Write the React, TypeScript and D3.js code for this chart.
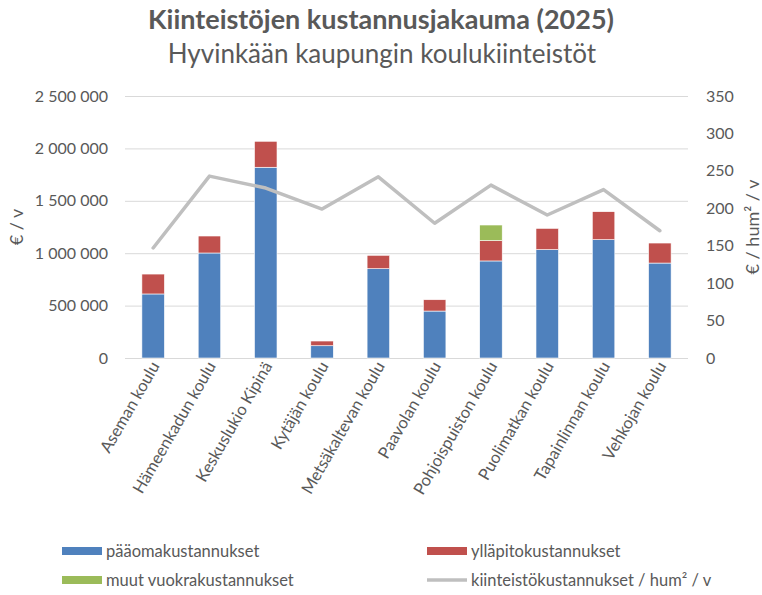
import { useRef, useEffect } from 'react';
import * as d3 from 'd3';

const schools = [
  'Aseman koulu',
  'Hämeenkadun koulu',
  'Keskuslukio Kipinä',
  'Kytäjän koulu',
  'Metsäkaltevan koulu',
  'Paavolan koulu',
  'Pohjoispuiston koulu',
  'Puolimatkan koulu',
  'Tapainlinnan koulu',
  'Vehkojan koulu',
];
const capital = [611000, 1002000, 1820000, 117000, 852000, 448000, 926000, 1034000, 1129000, 906000];
const upkeep = [190000, 162000, 248000, 45000, 128000, 108000, 194000, 203000, 267000, 191000];
const otherRent = [0, 0, 0, 0, 0, 0, 149000, 0, 0, 0];
const perSqm = [147, 243, 227, 199, 242, 180, 231, 191, 225, 170];
const leftTicks = [0, 500000, 1000000, 1500000, 2000000, 2500000];
const rightTicks = [0, 50, 100, 150, 200, 250, 300, 350];

const seriesNames = ['pääomakustannukset', 'ylläpitokustannukset', 'muut vuokrakustannukset'];
const lineName = 'kiinteistökustannukset / hum² / v';
const colors = ['#4f81bd', '#c0504d', '#9bbb59'];
const lineColor = '#bfbfbf';
const textColor = '#595959';
const font = 'Lato, Carlito, Calibri, sans-serif';

export default function App() {
  const svgRef = useRef<SVGSVGElement>(null);

  useEffect(() => {
    const W = 762;
    const H = 595;
    const plot = { left: 125, right: 688, top: 96, bottom: 358 };

    const svg = d3.select(svgRef.current).attr('width', W).attr('height', H);
    svg.selectAll('*').remove();
    svg.append('rect').attr('width', W).attr('height', H).attr('fill', '#fff');

    const x = d3.scaleBand<string>().domain(schools).range([plot.left, plot.right]).paddingInner(0.6).paddingOuter(0.3);
    const y = d3.scaleLinear().domain([0, 2500000]).range([plot.bottom, plot.top]);
    const y2 = d3.scaleLinear().domain([0, 350]).range([plot.bottom, plot.top]);

    // Finnish thousands separator
    const fmt = (v: number) => d3.format(',')(v).replace(/,/g, '\u00a0');

    // gridlines + left axis
    const leftAxis = d3.axisLeft(y).tickValues(leftTicks).tickSize(-(plot.right - plot.left)).tickFormat(fmt as any).tickPadding(17);
    const gl = svg.append('g').attr('transform', `translate(${plot.left},0)`).call(leftAxis);
    gl.select('.domain').remove();
    gl.selectAll('.tick line').attr('stroke', '#d9d9d9').attr('stroke-width', 1);
    gl.selectAll('.tick text').attr('fill', textColor).attr('font-size', 16).attr('font-family', font);

    const rightAxis = d3.axisRight(y2).tickValues(rightTicks).tickSize(0).tickPadding(18);
    const gr = svg.append('g').attr('transform', `translate(${plot.right},0)`).call(rightAxis);
    gr.select('.domain').remove();
    gr.selectAll('.tick text').attr('fill', textColor).attr('font-size', 16).attr('font-family', font);

    // stacked bars
    const rows = schools.map((s, i) => ({ school: s, a: capital[i], b: upkeep[i], c: otherRent[i] }));
    const stack = d3.stack<any>().keys(['a', 'b', 'c'])(rows);
    svg
      .append('g')
      .selectAll('g')
      .data(stack)
      .join('g')
      .attr('fill', (_d, i) => colors[i])
      .selectAll('rect')
      .data((d) => d.filter((p) => p[1] > p[0]))
      .join('rect')
      .attr('x', (d) => x(d.data.school)!)
      .attr('width', x.bandwidth())
      .attr('y', (d) => y(d[1]))
      .attr('height', (d) => y(d[0]) - y(d[1]))
      .attr('stroke', '#fff')
      .attr('stroke-width', 0.6);

    // line on secondary axis
    const line = d3
      .line<number>()
      .x((_d, i) => x(schools[i])! + x.bandwidth() / 2)
      .y((d) => y2(d));
    svg
      .append('path')
      .datum(perSqm)
      .attr('d', line)
      .attr('fill', 'none')
      .attr('stroke', lineColor)
      .attr('stroke-width', 3.5)
      .attr('stroke-linejoin', 'round')
      .attr('stroke-linecap', 'round');

    // category labels
    svg
      .append('g')
      .selectAll('text')
      .data(schools)
      .join('text')
      .attr('transform', (d) => `translate(${x(d)! + x.bandwidth() / 2 + 2},${plot.bottom + 5}) rotate(-60)`)
      .attr('text-anchor', 'end')
      .attr('dy', '0.35em')
      .attr('fill', textColor)
      .attr('font-size', 16.5)
      .attr('font-family', font)
      .text((d) => d);

    // titles
    svg
      .append('text')
      .attr('x', 381)
      .attr('y', 29)
      .attr('text-anchor', 'middle')
      .attr('fill', textColor)
      .attr('font-size', 27)
      .attr('font-weight', 'bold')
      .attr('font-family', font)
      .text('Kiinteistöjen kustannusjakauma (2025)');
    svg
      .append('text')
      .attr('x', 382)
      .attr('y', 63)
      .attr('text-anchor', 'middle')
      .attr('fill', textColor)
      .attr('font-size', 26)
      .attr('font-family', font)
      .text('Hyvinkään kaupungin koulukiinteistöt');

    // axis titles
    svg
      .append('text')
      .attr('transform', `translate(23,${(plot.top + plot.bottom) / 2}) rotate(-90)`)
      .attr('text-anchor', 'middle')
      .attr('fill', textColor)
      .attr('font-size', 18)
      .attr('font-family', font)
      .text('€ / v');
    svg
      .append('text')
      .attr('transform', `translate(759,${(plot.top + plot.bottom) / 2}) rotate(-90)`)
      .attr('text-anchor', 'middle')
      .attr('fill', textColor)
      .attr('font-size', 18)
      .attr('font-family', font)
      .text('€ / hum² / v');

    // legend
    const legend = [
      { name: seriesNames[0], color: colors[0], kind: 'rect', lx: 62, ly: 551 },
      { name: seriesNames[1], color: colors[1], kind: 'rect', lx: 427, ly: 551 },
      { name: seriesNames[2], color: colors[2], kind: 'rect', lx: 62, ly: 580 },
      { name: lineName, color: lineColor, kind: 'line', lx: 427, ly: 580 },
    ];
    const lg = svg.append('g').selectAll('g').data(legend).join('g').attr('transform', (d) => `translate(${d.lx},${d.ly})`);
    lg.filter((d) => d.kind === 'rect')
      .append('rect')
      .attr('x', 0)
      .attr('y', -4)
      .attr('width', 40)
      .attr('height', 8)
      .attr('fill', (d) => d.color);
    lg.filter((d) => d.kind === 'line')
      .append('line')
      .attr('x1', 0)
      .attr('x2', 40)
      .attr('stroke', (d) => d.color)
      .attr('stroke-width', 3.5);
    lg.append('text')
      .attr('x', 44)
      .attr('dy', '0.35em')
      .attr('fill', textColor)
      .attr('font-size', 16.5)
      .attr('font-family', font)
      .text((d) => d.name);
  }, []);

  return (
    <div style={{ position: 'absolute', left: 0, top: 0 }}>
      <svg ref={svgRef} style={{ display: 'block' }} />
    </div>
  );
}
